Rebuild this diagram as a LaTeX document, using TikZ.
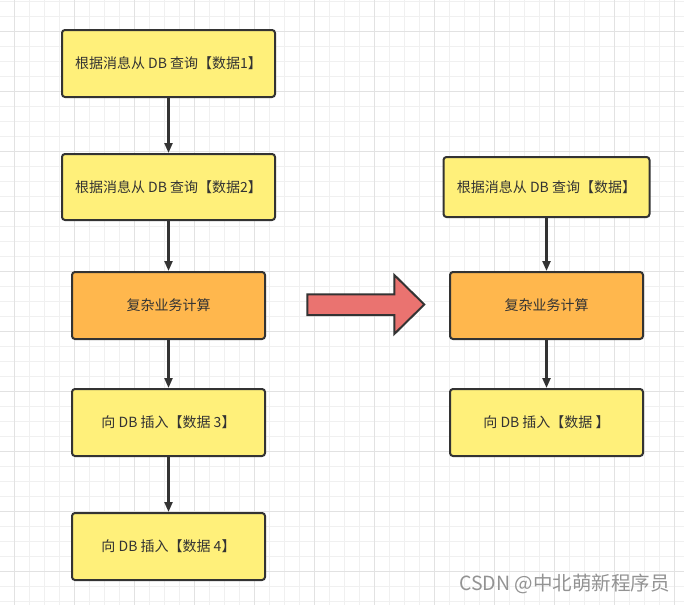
\documentclass[tikz,border=0pt]{standalone}
\usepackage{fontspec}
\setmainfont{Noto Sans CJK SC}
\usetikzlibrary{arrows.meta}
\definecolor{boxyellow}{HTML}{FFF07A}
\definecolor{boxorange}{HTML}{FFB74D}
\definecolor{bigred}{HTML}{EA7370}
\definecolor{edgedark}{HTML}{333333}
\definecolor{gridminor}{HTML}{F0F0F0}
\definecolor{gridmajor}{HTML}{E2E2E2}
\tikzset{
  flowbox/.style={draw=edgedark, line width=2pt, rounded corners=3pt, text=edgedark,
    font=\fontsize{14}{16}\selectfont, inner sep=0pt},
  yellowbox/.style={flowbox, fill=boxyellow},
  orangebox/.style={flowbox, fill=boxorange},
  conn/.style={draw=edgedark, line width=2.2pt, -{Triangle[length=10pt,width=8pt]}},
}
\begin{document}
\begin{tikzpicture}[x=1pt,y=-1pt]
\useasboundingbox (0,0) rectangle (684,605);
\fill[white] (0,0) rectangle (684,605);
% grid
\foreach \gx in {14,29,...,674} \draw[gridminor, line width=0.8pt] (\gx,0) -- (\gx,605);
\foreach \gy in {1,16,...,601} \draw[gridminor, line width=0.8pt] (0,\gy) -- (684,\gy);
\foreach \gx in {14,74,...,674} \draw[gridmajor, line width=0.8pt] (\gx,0) -- (\gx,605);
\foreach \gy in {31,91,...,601} \draw[gridmajor, line width=0.8pt] (0,\gy) -- (684,\gy);
% left column
\node[yellowbox, minimum width=213pt, minimum height=67pt] (l1) at (168.5,63.5) {根据消息从 DB 查询【数据1】};
\node[yellowbox, minimum width=213pt, minimum height=66pt] (l2) at (168.5,187) {根据消息从 DB 查询【数据2】};
\node[orangebox, minimum width=193pt, minimum height=67pt] (l3) at (168.5,305.5) {复杂业务计算};
\node[yellowbox, minimum width=193pt, minimum height=67pt] (l4) at (168.5,422.5) {向 DB 插入【数据 3】};
\node[yellowbox, minimum width=193pt, minimum height=67pt] (l5) at (168.5,546.5) {向 DB 插入【数据 4】};
\draw[conn] (l1) -- (l2);
\draw[conn] (l2) -- (l3);
\draw[conn] (l3) -- (l4);
\draw[conn] (l4) -- (l5);
% right column
\node[yellowbox, minimum width=206pt, minimum height=60pt] (r1) at (546.5,187) {根据消息从 DB 查询【数据】};
\node[orangebox, minimum width=193pt, minimum height=67pt] (r2) at (546.5,305.5) {复杂业务计算};
\node[yellowbox, minimum width=193pt, minimum height=67pt] (r3) at (546.5,422.5) {向 DB 插入【数据 】};
\draw[conn] (r1) -- (r2);
\draw[conn] (r2) -- (r3);
% big arrow
\draw[draw=edgedark, fill=bigred, line width=2pt, line join=miter]
  (307.3,294.3) -- (394.3,294.3) -- (394.3,275) -- (424.3,304.5) -- (394.3,334) -- (394.3,315) -- (307.3,315) -- cycle;
% watermark
\node[text=gray!85!white, font=\fontsize{19.5}{21}\selectfont, anchor=east, inner sep=0pt] (wm) at (670,584) {CSDN @中北萌新程序员};
\end{tikzpicture}
\end{document}
